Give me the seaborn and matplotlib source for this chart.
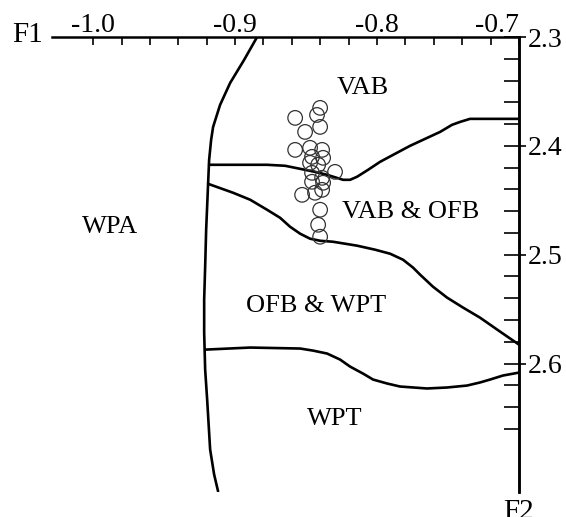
import numpy as np
import pandas as pd
import matplotlib
matplotlib.use("Agg")
import matplotlib.pyplot as plt
import seaborn as sns
from matplotlib.ticker import FixedLocator

# ---------------- data ----------------
# WPA boundary (near-vertical left line)
wpa_f1 = [-0.8845, -0.8937, -0.9035, -0.9106, -0.9155, -0.9169, -0.9183, -0.9190, -0.9204,
          -0.9211, -0.9218, -0.9218, -0.9211, -0.9197, -0.9176, -0.9148, -0.9120]
wpa_f2 = [2.3000, 2.3211, 2.3422, 2.3624, 2.3826, 2.3945, 2.4128, 2.4339, 2.4771,
          2.5110, 2.5413, 2.5716, 2.6055, 2.6330, 2.6789, 2.7018, 2.7174]
# VAB / VAB & OFB boundary
vab_f1 = [-0.9183, -0.8965, -0.8775, -0.8648, -0.8542, -0.8437, -0.8352, -0.8239, -0.8190, -0.8141,
          -0.8063, -0.7979, -0.7873, -0.7768, -0.7662, -0.7556, -0.7472, -0.7415, -0.7345, -0.7204, -0.7000]
vab_f2 = [2.4174, 2.4174, 2.4174, 2.4183, 2.4211, 2.4239, 2.4266, 2.4312, 2.4312, 2.4284,
          2.4220, 2.4147, 2.4073, 2.4000, 2.3936, 2.3872, 2.3807, 2.3780, 2.3752, 2.3752, 2.3752]
# VAB & OFB / OFB & WPT boundary
ofb_f1 = [-0.9190, -0.9014, -0.8894, -0.8775, -0.8683, -0.8613, -0.8542, -0.8472, -0.8401, -0.8310, -0.8141,
          -0.8014, -0.7908, -0.7817, -0.7746, -0.7697, -0.7606, -0.7507, -0.7394, -0.7275, -0.7134, -0.7000]
ofb_f2 = [2.4349, 2.4431, 2.4495, 2.4587, 2.4661, 2.4743, 2.4807, 2.4853, 2.4872, 2.4881, 2.4917,
          2.4954, 2.4991, 2.5046, 2.5119, 2.5183, 2.5294, 2.5394, 2.5486, 2.5578, 2.5706, 2.5826]
# OFB & WPT / WPT boundary
wpt_f1 = [-0.9211, -0.8894, -0.8542, -0.8451, -0.8352, -0.8261, -0.8190, -0.8099, -0.8028,
          -0.7930, -0.7838, -0.7648, -0.7507, -0.7366, -0.7275, -0.7204, -0.7113, -0.7000]
wpt_f2 = [2.5872, 2.5853, 2.5862, 2.5881, 2.5908, 2.5963, 2.6028, 2.6092, 2.6147,
          2.6183, 2.6211, 2.6229, 2.6220, 2.6202, 2.6174, 2.6147, 2.6110, 2.6083]

# samples (open circles)
sample_f1 = [-0.8401, -0.8577, -0.8423, -0.8401, -0.8507, -0.8577, -0.8472, -0.8387, -0.8458, -0.8380,
             -0.8472, -0.8415, -0.8296, -0.8458, -0.8387, -0.8458, -0.8380, -0.8528, -0.8437, -0.8387,
             -0.8401, -0.8415, -0.8401]
sample_f2 = [2.3651, 2.3743, 2.3716, 2.3826, 2.3872, 2.4037, 2.4018, 2.4037, 2.4101, 2.4110,
             2.4156, 2.4174, 2.4239, 2.4248, 2.4294, 2.4330, 2.4339, 2.4450, 2.4431, 2.4404,
             2.4587, 2.4725, 2.4835]

x_major = [-1.0, -0.9, -0.8, -0.7]
x_labels = ["-1.0", "-0.9", "-0.8", "-0.7"]
y_major = [2.3, 2.4, 2.5, 2.6]
y_labels = ["2.3", "2.4", "2.5", "2.6"]
region_names = ["VAB", "VAB & OFB", "WPA", "OFB & WPT", "WPT"]

# ---------------- style ----------------
sns.set_theme(style="white")
plt.rcParams['font.family'] = ['Liberation Serif', 'DejaVu Serif']
plt.rcParams['axes.unicode_minus'] = False

W, H = 566, 517
fig = plt.figure(figsize=(W / 100, H / 100), dpi=100)
ax = fig.add_axes([52 / W, 1 - 492 / H, (519 - 52) / W, (492 - 37) / H])

boundaries = {
    "WPA": (wpa_f1, wpa_f2),
    "VAB": (vab_f1, vab_f2),
    "OFB": (ofb_f1, ofb_f2),
    "WPT": (wpt_f1, wpt_f2),
}
for name, (fx, fy) in boundaries.items():
    df = pd.DataFrame({"F1": fx, "F2": fy})
    sns.lineplot(data=df, x="F1", y="F2", sort=False, estimator=None,
                 color="black", linewidth=1.9, ax=ax,
                 solid_joinstyle="round", solid_capstyle="round")

samples = pd.DataFrame({"F1": sample_f1, "F2": sample_f2})
sns.scatterplot(data=samples, x="F1", y="F2", marker="o", s=110,
                facecolors="none", edgecolor="#333333", linewidth=0.9, ax=ax, zorder=3)

ax.set_xlim(-1.029, -0.7)
ax.set_ylim(2.718, 2.3)
ax.set_xlabel("")
ax.set_ylabel("")
ax.set_facecolor("white")
ax.grid(False)

# right axis: outer major ticks + labels (twin axis)
ax2 = ax.twinx()
ax2.set_ylim(ax.get_ylim())
ax2.yaxis.set_major_locator(FixedLocator(y_major))
ax2.set_yticklabels(y_labels)
ax2.yaxis.set_minor_locator(FixedLocator([]))
ax2.tick_params(axis="y", which="major", direction="out", length=5, width=1.2, color="black",
                right=True, left=False, labelright=True, labelleft=False,
                labelsize=20, pad=1, labelcolor="black")
for s in ["left", "bottom", "top"]:
    ax2.spines[s].set_visible(False)
ax2.spines["right"].set_linewidth(1.8)
ax2.spines["right"].set_color("black")
ax2.grid(False)

for s in ["left", "bottom"]:
    ax.spines[s].set_visible(False)
for s in ["top", "right"]:
    ax.spines[s].set_visible(True)
    ax.spines[s].set_linewidth(1.8)
    ax.spines[s].set_color("black")

# top axis
ax.xaxis.tick_top()
ax.xaxis.set_major_locator(FixedLocator(x_major))
ax.set_xticklabels(x_labels)
ax.xaxis.set_minor_locator(FixedLocator(list(np.round(np.arange(-1.0, -0.699, 0.02), 3))))
ax.tick_params(axis="x", which="both", direction="in", length=6, width=1.2, color="black",
               top=True, bottom=False, labeltop=True, labelbottom=False,
               labelsize=20, pad=-1, labelcolor="black")
ax.xaxis.get_major_ticks()[-1].label2.set_horizontalalignment("right")

# right axis: inner ticks (set after twinx, which moves ticks left)
ax.yaxis.set_major_locator(FixedLocator(y_major))
ax.yaxis.set_minor_locator(FixedLocator(list(np.round(np.arange(2.32, 2.67, 0.02), 3))))
ax.tick_params(axis="y", which="both", direction="in", length=11, width=1.2, color="black",
               left=False, right=True, labelleft=False, labelright=False)

# region labels
label_pos = [(-0.8099, 2.347), (-0.776, 2.4606), (-0.988, 2.475), (-0.843, 2.547), (-0.8296, 2.651)]
for name, (px, py) in zip(region_names, label_pos):
    ax.text(px, py, name, ha="center", va="center", fontsize=19, color="black")

fig.text(43 / W, 1 - 35 / H, "F1", ha="right", va="center", fontsize=21, color="black")
fig.text(519 / W, 1 - 499 / H, "F2", ha="center", va="top", fontsize=21, color="black")

fig.savefig("out.png", dpi=100, facecolor="white")
